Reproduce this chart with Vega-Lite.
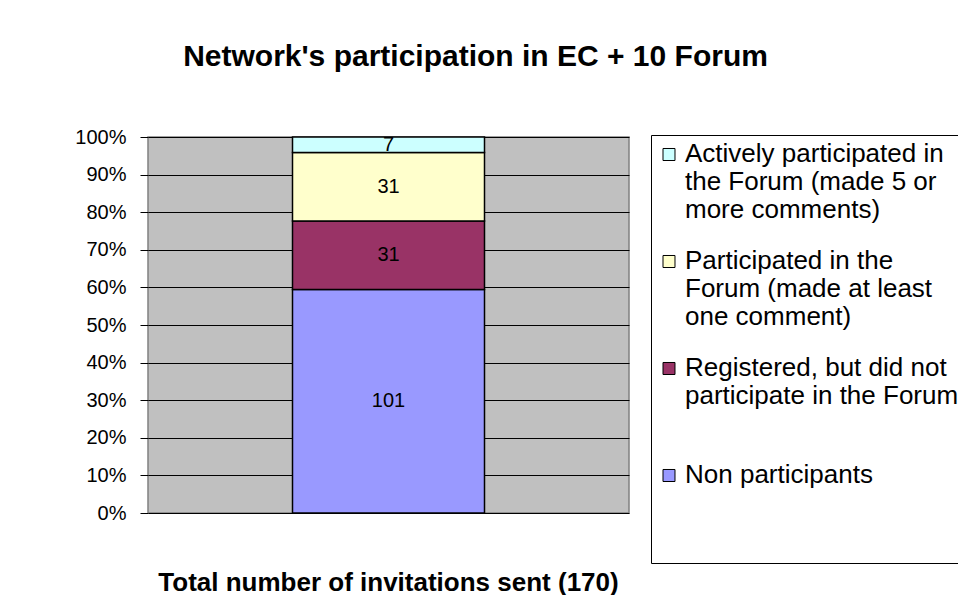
{
  "$schema": "https://vega.github.io/schema/vega-lite/v6.json",
  "width": 481,
  "height": 376,
  "autosize": {"type": "none"},
  "padding": {"left": 148, "top": 137, "right": 329, "bottom": 82},
  "background": "white",
  "title": {
    "text": "Network's participation in EC + 10 Forum",
    "font": "Liberation Sans",
    "fontSize": 30,
    "fontWeight": "bold",
    "color": "black",
    "anchor": "middle",
    "frame": "group",
    "dx": 87,
    "offset": 55
  },
  "config": {
    "view": {"fill": "#C0C0C0", "stroke": "#808080", "strokeWidth": 1.5},
    "style": {"guide-label": {"lineHeight": 28}}
  },
  "data": {
    "values": [
      {"category": "Total number of invitations sent (170)", "status": "Non participants", "count": 101, "order": 1},
      {"category": "Total number of invitations sent (170)", "status": "Registered, but did not participate in the Forum", "count": 31, "order": 2},
      {"category": "Total number of invitations sent (170)", "status": "Participated in the Forum (made at least one comment)", "count": 31, "order": 3},
      {"category": "Total number of invitations sent (170)", "status": "Actively participated in the Forum (made 5 or more comments)", "count": 7, "order": 4}
    ]
  },
  "encoding": {
    "x": {
      "field": "category",
      "type": "nominal",
      "axis": {
        "title": null,
        "labelAngle": 0,
        "labelFont": "Liberation Sans",
        "labelFontSize": 26,
        "labelFontWeight": "bold",
        "labelColor": "black",
        "labelPadding": 56,
        "labelBaseline": "top",
        "ticks": false,
        "domain": false,
        "labelLimit": 700
      }
    }
  },
  "layer": [
    {
      "mark": {"type": "bar", "stroke": "black", "strokeWidth": 1.5, "size": 192, "opacity": 1},
      "encoding": {
        "y": {
          "field": "count",
          "type": "quantitative",
          "stack": "normalize",
          "scale": {"domain": [0, 1], "nice": false},
          "axis": {
            "title": null,
            "values": [0, 0.1, 0.2, 0.3, 0.4, 0.5, 0.6, 0.7, 0.8, 0.9, 1],
            "format": ".0%",
            "labelOverlap": false,
            "labelBaseline": "middle",
            "grid": true,
            "gridColor": "black",
            "gridOpacity": 1,
            "gridWidth": 1,
            "domain": false,
            "tickColor": "black",
            "tickSize": 8,
            "tickWidth": 1,
            "labelFont": "Liberation Sans",
            "labelFontSize": 20,
            "labelColor": "black",
            "labelPadding": 14
          }
        },
        "color": {
          "field": "status",
          "type": "nominal",
          "scale": {
            "domain": [
              "Actively participated in the Forum (made 5 or more comments)",
              "Participated in the Forum (made at least one comment)",
              "Registered, but did not participate in the Forum",
              "Non participants"
            ],
            "range": ["#CCFFFF", "#FFFFCC", "#993366", "#9999FF"]
          },
          "legend": {
            "orient": "none",
            "legendX": 503,
            "legendY": -2,
            "title": " ",
            "titleOrient": "bottom",
            "titleFontSize": 8,
            "titlePadding": 11,
            "strokeColor": "black",
            "fillColor": "white",
            "padding": 0,
            "rowPadding": 19,
            "symbolType": "M-0.333,-0.278H0.333V0.389H-0.333Z",
            "symbolSize": 1296,
            "symbolOffset": -0.5,
            "symbolStrokeColor": "black",
            "symbolStrokeWidth": 1,
            "symbolOpacity": 1,
            "labelFont": "Liberation Sans",
            "labelFontSize": 26,
            "labelColor": "black",
            "labelBaseline": "middle",
            "labelOffset": -2.5,
            "labelLimit": 500,
            "labelExpr": "datum.label == 'Actively participated in the Forum (made 5 or more comments)' ? ['Actively participated in', 'the Forum (made 5 or', 'more comments)'] : datum.label == 'Participated in the Forum (made at least one comment)' ? ['Participated in the', 'Forum (made at least', 'one comment)'] : datum.label == 'Registered, but did not participate in the Forum' ? ['Registered, but did not', 'participate in the Forum', ' '] : ['Non participants', ' ', ' ']"
          }
        },
        "order": {"field": "order", "type": "quantitative"}
      }
    },
    {
      "mark": {"type": "text", "font": "Liberation Sans", "fontSize": 20, "color": "black", "baseline": "middle"},
      "encoding": {
        "y": {
          "field": "count",
          "type": "quantitative",
          "stack": "normalize",
          "bandPosition": 0.5,
          "scale": {"domain": [0, 1], "nice": false},
          "axis": {
            "title": null,
            "values": [0, 0.1, 0.2, 0.3, 0.4, 0.5, 0.6, 0.7, 0.8, 0.9, 1],
            "format": ".0%",
            "labelOverlap": false,
            "labelBaseline": "middle",
            "grid": true,
            "gridColor": "black",
            "gridOpacity": 1,
            "gridWidth": 1,
            "domain": false,
            "tickColor": "black",
            "tickSize": 8,
            "tickWidth": 1,
            "labelFont": "Liberation Sans",
            "labelFontSize": 20,
            "labelColor": "black",
            "labelPadding": 14
          }
        },
        "detail": {"field": "status", "type": "nominal"},
        "order": {"field": "order", "type": "quantitative"},
        "text": {"field": "count", "type": "quantitative"}
      }
    }
  ]
}
